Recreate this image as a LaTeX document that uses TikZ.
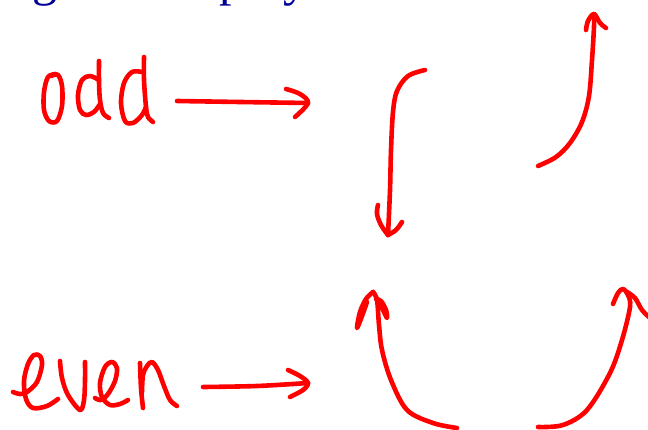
\documentclass[tikz,border=0pt]{standalone}
\usepackage{fontspec}
\setmainfont{Liberation Serif}
\definecolor{titleblue}{RGB}{0,0,150}
\definecolor{ink}{RGB}{255,0,0}
\tikzset{
  pen/.style={draw=ink, line width=4.6pt, line cap=round, line join=round},
  stroke/.style={pen, smooth, tension=0.55},
}
\begin{document}
\begin{tikzpicture}[x=1pt,y=-1pt]
\useasboundingbox (0,0) rectangle (648,430);
\clip (0,0) rectangle (648,430);
\fill[white] (0,0) rectangle (648,430);

% title line running off the top edge
\node[anchor=base west, inner sep=0pt, text=titleblue,
      font=\fontsize{50}{60}\selectfont] (title) at (-26,-4) {Degree of a polynomial};

% ---- "odd" ----
\draw[stroke] plot coordinates {(56,74) (48,77) (44,92) (44,110) (49,121) (57,121) (62,106) (62,86) (58,75) (51,76)};
\draw[stroke] plot coordinates {(99,61) (99,82) (100,100) (103,113) (109,118)};
\draw[stroke] plot coordinates {(99,80) (90,76) (82,80) (78,95) (80,110) (86,115) (94,112) (100,104)};
\draw[stroke] plot coordinates {(144,57) (144,80) (146,107) (148,117) (153,122)};
\draw[stroke] plot coordinates {(142,72) (132,72) (124,83) (121,103) (125,121) (133,123) (142,115) (146,107)};

% arrow after "odd"
\coordinate (oddS) at (177,101);
\coordinate (oddT) at (308,103);
\draw[stroke] plot coordinates {(oddS) (240,102) (oddT)};
\draw[stroke] plot coordinates {(286,89) (300,94) (oddT) (295,117)};

% ---- odd: left end falls ----
\coordinate (oLtip) at (388,235);
\draw[stroke] plot coordinates {(425,70) (408,76) (397,91) (393,112) (391,150) (390,190) (oLtip)};
\draw[stroke] plot coordinates {(378,205) (377,214) (381,225) (oLtip)};
\draw[stroke] plot coordinates {(402,222) (396,230) (oLtip)};

% ---- odd: right end rises ----
\coordinate (oRtip) at (594,14);
\draw[stroke] plot coordinates {(538,166) (556,157) (570,143) (582,122) (589,96) (592,60) (594,27) (oRtip)};
\draw[stroke] plot coordinates {(586,30) (588,21) (oRtip) (600,23) (606,28)};

% ---- "even" ----
\draw[stroke] plot coordinates {(13,392) (20,394) (27,392) (37,382) (42,365) (40,356) (34,355) (28,364) (24,381) (26,399) (33,408) (47,406) (58,399)};
\draw[stroke] plot coordinates {(60,361) (62,378) (68,395) (80,410) (84,400) (85,380) (85,362)};
\draw[stroke] plot coordinates {(95,398) (101,400) (108,394) (115,381) (117,368) (112,362) (105,367) (100,383) (102,397) (110,405) (120,404) (128,400)};
\draw[stroke] plot coordinates {(140,363) (141,388) (143,408)};
\draw[stroke] plot coordinates {(142,392) (143,375) (147,366) (152,362) (158,370) (164,386) (170,400) (177,406)};

% arrow after "even"
\coordinate (evS) at (203,387);
\coordinate (evT) at (308,383);
\draw[stroke] plot coordinates {(evS) (257,386) (evT)};
\draw[stroke] plot coordinates {(288,370) (300,376) (evT) (303,390) (290,397)};

% ---- even: left end rises ----
\coordinate (eLtip) at (373,292);
\draw[stroke] plot coordinates {(457,428) (433,423) (407,410) (391,380) (382,350) (379,325) (377,300) (eLtip)};
\draw[stroke] plot coordinates {(eLtip) (366,299) (360,312) (357,328) (362,316) (367,302)};
\draw[stroke] plot coordinates {(376,299) (381,301) (386,310) (387,318) (383,310) (378,302)};

% ---- even: right end rises ----
\coordinate (eRtip) at (623,289);
\draw[stroke] plot coordinates {(538,427) (563,425) (587,410) (610,373) (622,340) (630,307) (628,295) (eRtip) (618,293) (613,304)};
\draw[stroke] plot coordinates {(627,292) (635,298) (642,310) (650,318)};
\end{tikzpicture}
\end{document}
